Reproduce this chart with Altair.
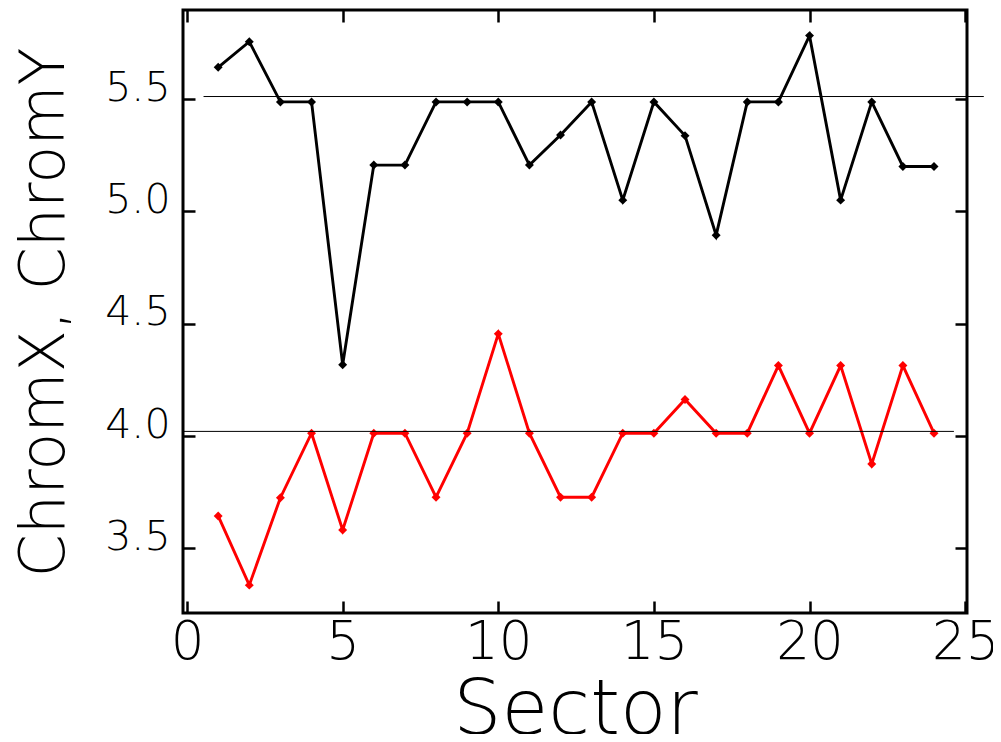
import altair as alt
import pandas as pd

sectors = list(range(1, 25))
chrom_y = [5.641, 5.755, 5.487, 5.487, 4.318, 5.206, 5.206, 5.487, 5.487, 5.487,
           5.206, 5.340, 5.487, 5.050, 5.487, 5.337, 4.894, 5.487, 5.487, 5.782,
           5.050, 5.487, 5.200, 5.200]
chrom_x = [3.645, 3.337, 3.726, 4.013, 3.582, 4.013, 4.013, 3.728, 4.013, 4.455,
           4.013, 3.728, 3.728, 4.013, 4.013, 4.163, 4.013, 4.013, 4.314, 4.013,
           4.314, 3.876, 4.314, 4.013]

ref_y = [5.511, 4.021]
ref_x_start = [0.53, -0.10]
ref_x_end = [25.6, 24.64]

x_ticks = [0, 5, 10, 15, 20, 25]
y_ticks = [3.5, 4.0, 4.5, 5.0, 5.5]

df = pd.DataFrame({
    "Sector": sectors * 2,
    "value": chrom_y + chrom_x,
    "series": ["ChromY"] * 24 + ["ChromX"] * 24,
})
df_ref = pd.DataFrame({"y": ref_y, "x1": ref_x_start, "x2": ref_x_end})

W, H = 784, 603
FONT = "DejaVu Sans"
WEIGHT = 200

xscale = alt.Scale(domain=[-0.13, 25.06], nice=False, zero=False)
yscale = alt.Scale(domain=[3.213, 5.896], nice=False, zero=False)

base = alt.Chart(df)

lines = base.mark_line(
    strokeWidth=2.9,
    point=alt.OverlayMarkDef(shape="diamond", size=80, filled=True, opacity=1),
).encode(
    x=alt.X("Sector:Q", scale=xscale,
            axis=alt.Axis(orient="bottom", values=x_ticks, ticks=False, tickSize=0,
                          domain=False, grid=False, labelFont=FONT, labelFontSize=53,
                          labelFontWeight=WEIGHT, labelColor="black", labelPadding=3,
                          title="Sector", titleFont=FONT, titleFontSize=76,
                          titleFontWeight=WEIGHT, titleColor="black",
                          titleBaseline="alphabetic", titleY=120.5, titleX=392)),
    y=alt.Y("value:Q", scale=yscale,
            axis=alt.Axis(orient="left", values=y_ticks, ticks=False, tickSize=0,
                          domain=False, grid=False, format=".1f", labelFont=FONT,
                          labelFontSize=41, labelFontWeight=WEIGHT, labelColor="black",
                          labelPadding=13, labelBaseline="alphabetic", labelOffset=1,
                          title="ChromX,  ChromY", titleFont=FONT, titleFontSize=62,
                          titleFontWeight=WEIGHT, titleColor="black", titleAngle=270,
                          titleBaseline="alphabetic", titleAlign="center",
                          titleX=-119.5, titleY=302)),
    color=alt.Color("series:N", scale=alt.Scale(domain=["ChromY", "ChromX"],
                                                range=["black", "#ff0000"]),
                    legend=None),
    order="Sector:Q",
)

refs = alt.Chart(df_ref).mark_rule(clip=False, color="black", strokeWidth=1).encode(
    x=alt.X("x1:Q", scale=xscale, axis=None),
    x2="x2:Q",
    y=alt.Y("y:Q", scale=yscale, axis=None),
)

tick_style = dict(labels=False, domain=False, grid=False, ticks=True, tickSize=12,
                  tickWidth=2.5, tickColor="black", title=None)

ticks_a = base.mark_point(opacity=0).encode(
    x=alt.X("Sector:Q", scale=xscale,
            axis=alt.Axis(orient="top", offset=-H, values=x_ticks, **tick_style)),
    y=alt.Y("value:Q", scale=yscale,
            axis=alt.Axis(orient="right", offset=-W, values=y_ticks, **tick_style)),
)
ticks_b = base.mark_point(opacity=0).encode(
    x=alt.X("Sector:Q", scale=xscale,
            axis=alt.Axis(orient="bottom", offset=-H, values=x_ticks, **tick_style)),
    y=alt.Y("value:Q", scale=yscale,
            axis=alt.Axis(orient="left", offset=-W, values=y_ticks, **tick_style)),
)

chart = alt.layer(lines, refs, ticks_a, ticks_b).resolve_axis(
    x="independent", y="independent"
).properties(
    width=W, height=H,
    padding={"left": 175, "top": 2, "right": 26, "bottom": 121},
    autosize=alt.AutoSizeParams(type="none"),
    background="white",
).configure_view(
    stroke="black", strokeWidth=3
)

chart.save("out.html", embed_options={"renderer": "svg", "actions": False})
